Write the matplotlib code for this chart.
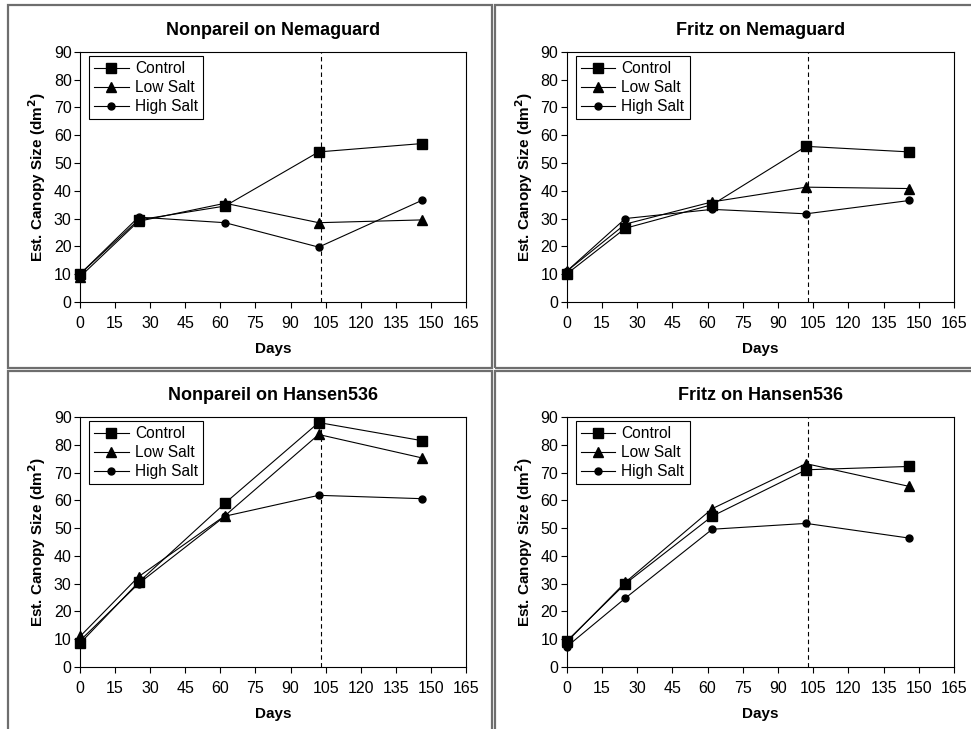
import matplotlib
matplotlib.use("Agg")
import matplotlib.pyplot as plt
from matplotlib.patches import Rectangle

plt.rcParams['font.family'] = ['Liberation Sans', 'DejaVu Sans']

days = [0, 25, 62, 102, 146]
treatments = ["Control", "Low Salt", "High Salt"]
markers = ["s", "^", "o"]
marker_sizes = [6.5, 6.5, 5]

titles = ["Nonpareil on Nemaguard", "Fritz on Nemaguard",
          "Nonpareil on Hansen536", "Fritz on Hansen536"]

# canopy size per panel: Control, Low Salt, High Salt
nonpareil_nema = [[10, 29.5, 34.5, 54, 57],
                  [9, 29, 35.5, 28.5, 29.5],
                  [10, 30.5, 28.5, 19.7, 36.5]]
fritz_nema = [[10, 26.5, 35, 56, 54],
              [11, 28, 36, 41.3, 40.8],
              [11, 30, 33.3, 31.7, 36.5]]
nonpareil_hansen = [[8.5, 30.5, 59, 88, 81.5],
                    [11, 32.5, 54.5, 83.7, 75.3],
                    [9.5, 30, 54.3, 61.8, 60.6]]
fritz_hansen = [[9.3, 30, 54.3, 71, 72.2],
                [9, 30.5, 57, 73.2, 65],
                [7.3, 24.8, 49.6, 51.7, 46.4]]
panels = [nonpareil_nema, fritz_nema, nonpareil_hansen, fritz_hansen]

cutoff_day = 103

fig = plt.figure(figsize=(9.71, 7.29), dpi=100)

# gray frames round each panel
frames = [(0.0082, 0.495, 0.4985, 0.498), (0.5098, 0.495, 0.5, 0.498),
          (0.0082, -0.01, 0.4985, 0.501), (0.5098, -0.01, 0.5, 0.501)]
for x0, y0, w, h in frames:
    fig.patches.append(Rectangle((x0, y0), w, h, transform=fig.transFigure,
                                 fill=False, edgecolor="#6e6e6e", linewidth=1.6))

axes_pos = [(0.0824, 0.586, 0.3976, 0.3427), (0.5836, 0.586, 0.3989, 0.3427),
            (0.0824, 0.085, 0.3976, 0.343), (0.5836, 0.085, 0.3989, 0.343)]

for pos, title, data in zip(axes_pos, titles, panels):
    ax = fig.add_axes(pos)
    for vals, name, m, ms in zip(data, treatments, markers, marker_sizes):
        ax.plot(days, vals, color="black", linewidth=0.8, marker=m,
                markersize=ms, label=name, clip_on=False, zorder=3)
    ax.axvline(cutoff_day, color="black", linestyle=(0, (4, 3)), linewidth=0.8)
    ax.set_xlim(0, 165)
    ax.set_ylim(0, 90)
    ax.set_xticks(range(0, 166, 15))
    ax.set_yticks(range(0, 91, 10))
    ax.tick_params(direction="out", length=4, width=0.8, labelsize=11.5)
    ax.tick_params(axis="x", pad=6)
    ax.tick_params(axis="y", pad=2)
    for s in ax.spines.values():
        s.set_linewidth(0.8)
    ax.set_title(title, fontsize=13, fontweight="bold", pad=12)
    ax.set_xlabel("Days", fontsize=11, fontweight="bold", labelpad=8)
    ax.set_ylabel("Est. Canopy Size (dm$^\\mathbf{2}$)", fontsize=11,
                  fontweight="bold", labelpad=4)
    leg = ax.legend(loc="upper left", bbox_to_anchor=(0.023, 0.985),
                    borderaxespad=0, fancybox=False, framealpha=1,
                    edgecolor="black", fontsize=11.2, handlelength=2.2,
                    handletextpad=0.4, labelspacing=0.25, borderpad=0.35)
    leg.get_frame().set_linewidth(0.8)

fig.savefig("out.png", dpi=100)
